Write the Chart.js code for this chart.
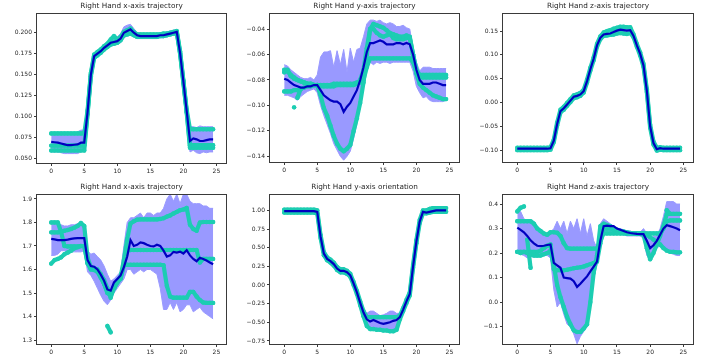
<!DOCTYPE html>
<html><head><meta charset="utf-8">
<script src="https://cdn.jsdelivr.net/npm/chart.js@4.4.1/dist/chart.umd.min.js"></script>
<style>
body{margin:0;background:#fff;width:718px;height:364px;overflow:hidden;position:relative}
canvas{position:absolute}
</style>
</head><body>
<canvas id="c1" width="231" height="180" style="left:0px;top:0px"></canvas>
<canvas id="c2" width="228" height="180" style="left:236px;top:0px"></canvas>
<canvas id="c3" width="228" height="180" style="left:470px;top:0px"></canvas>
<canvas id="c4" width="231" height="183" style="left:0px;top:181px"></canvas>
<canvas id="c5" width="228" height="183" style="left:236px;top:181px"></canvas>
<canvas id="c6" width="228" height="183" style="left:470px;top:181px"></canvas>
<script>
const TITLES = ["Right Hand x-axis trajectory","Right Hand y-axis trajectory","Right Hand z-axis trajectory","Right Hand x-axis trajectory","Right Hand y-axis orientation","Right Hand z-axis trajectory"];
const X = [0,0.5,1,1.5,2,2.5,3,3.5,4,4.5,5,5.5,6,6.5,7,7.5,8,8.5,9,9.5,10,10.5,11,11.5,12,12.5,13,13.5,14,14.5,15,15.5,16,16.5,17,17.5,18,18.5,19,19.5,20,20.5,21,21.5,22,22.5,23,23.5,24,24.5];

// Panel 1
const p1Mean = [0.070,0.0695,0.069,0.068,0.067,0.066,0.066,0.0665,0.067,0.069,0.069,0.105,0.150,0.172,0.175,0.178,0.182,0.185,0.188,0.189,0.190,0.193,0.200,0.202,0.204,0.200,0.197,0.196,0.196,0.196,0.196,0.196,0.196,0.197,0.197,0.198,0.199,0.200,0.201,0.176,0.142,0.107,0.071,0.074,0.073,0.071,0.071,0.072,0.073,0.073];
const p1T1 = [0.080,0.080,0.080,0.080,0.080,0.080,0.080,0.080,0.080,0.080,0.080,0.107,0.152,0.174,0.177,0.180,0.184,0.187,0.192,0.196,0.192,0.195,0.201,0.203,0.205,0.201,0.198,0.198,0.198,0.198,0.198,0.198,0.198,0.198,0.199,0.199,0.200,0.201,0.202,0.178,0.143,0.108,0.085,0.085,0.085,0.085,0.085,0.085,0.085,0.085];
const p1T2 = [0.0655,0.0655,0.0655,0.0655,0.0655,0.0655,0.0655,0.0655,0.0655,0.0655,0.0655,0.104,0.150,0.172,0.175,0.178,0.182,0.185,0.188,0.189,0.190,0.193,0.199,0.201,0.202,0.199,0.196,0.196,0.196,0.196,0.196,0.196,0.196,0.197,0.197,0.198,0.199,0.200,0.201,0.176,0.142,0.106,0.066,0.066,0.066,0.066,0.066,0.066,0.066,0.066];
const p1T3 = [0.0597,0.0597,0.0597,0.0597,0.0597,0.0597,0.0597,0.0597,0.0597,0.0597,0.0597,0.103,0.148,0.170,0.173,0.176,0.180,0.183,0.186,0.187,0.188,0.191,0.197,0.198,0.199,0.197,0.195,0.195,0.195,0.195,0.195,0.195,0.195,0.196,0.196,0.197,0.198,0.199,0.200,0.175,0.140,0.105,0.063,0.063,0.063,0.063,0.063,0.063,0.063,0.063];
const p1Up = [0.081,0.081,0.081,0.080,0.080,0.079,0.079,0.080,0.082,0.084,0.084,0.115,0.158,0.176,0.179,0.182,0.186,0.189,0.193,0.197,0.195,0.199,0.207,0.209,0.210,0.205,0.200,0.199,0.199,0.199,0.199,0.199,0.199,0.200,0.200,0.201,0.202,0.203,0.204,0.185,0.150,0.115,0.088,0.088,0.087,0.089,0.088,0.088,0.088,0.088];
const p1Lo = [0.058,0.058,0.058,0.057,0.056,0.056,0.056,0.056,0.056,0.058,0.060,0.095,0.140,0.166,0.171,0.174,0.178,0.181,0.184,0.185,0.186,0.188,0.194,0.196,0.197,0.195,0.193,0.193,0.193,0.193,0.193,0.193,0.193,0.194,0.194,0.195,0.196,0.197,0.197,0.165,0.130,0.095,0.058,0.060,0.057,0.056,0.058,0.057,0.058,0.058];

// Panel 2
const p2Mean = [-0.079,-0.080,-0.082,-0.084,-0.085,-0.086,-0.086,-0.085,-0.085,-0.084,-0.084,-0.088,-0.092,-0.094,-0.096,-0.097,-0.097,-0.099,-0.105,-0.101,-0.098,-0.093,-0.088,-0.080,-0.070,-0.058,-0.051,-0.051,-0.050,-0.049,-0.050,-0.052,-0.052,-0.052,-0.051,-0.051,-0.052,-0.051,-0.052,-0.060,-0.072,-0.080,-0.083,-0.083,-0.083,-0.082,-0.082,-0.083,-0.084,-0.084];
const p2T1 = [-0.074,-0.073,-0.076,-0.078,-0.080,-0.081,-0.082,-0.083,-0.083,-0.084,-0.084,-0.092,-0.102,-0.108,-0.116,-0.124,-0.130,-0.134,-0.136,-0.134,-0.131,-0.120,-0.110,-0.098,-0.082,-0.060,-0.040,-0.036,-0.037,-0.038,-0.039,-0.041,-0.043,-0.044,-0.045,-0.046,-0.046,-0.045,-0.046,-0.060,-0.075,-0.083,-0.086,-0.088,-0.090,-0.092,-0.093,-0.094,-0.095,-0.095];
const p2T2 = [-0.089,-0.089,-0.089,-0.088,-0.088,-0.087,-0.086,-0.085,-0.085,-0.084,-0.084,-0.084,-0.084,-0.084,-0.084,-0.083,-0.083,-0.083,-0.083,-0.083,-0.083,-0.083,-0.082,-0.082,-0.080,-0.070,-0.063,-0.063,-0.063,-0.063,-0.063,-0.063,-0.063,-0.063,-0.063,-0.063,-0.063,-0.063,-0.063,-0.066,-0.074,-0.078,-0.078,-0.078,-0.078,-0.078,-0.078,-0.078,-0.078,-0.078];
const p2T3 = [-0.072,-0.072,-0.077,-0.079,-0.080,-0.081,-0.082,-0.083,-0.083,-0.084,-0.084,-0.085,-0.085,-0.085,-0.085,-0.085,-0.084,-0.084,-0.084,-0.084,-0.084,-0.084,-0.083,-0.080,-0.072,-0.055,-0.040,-0.040,-0.043,-0.045,-0.046,-0.045,-0.044,-0.047,-0.048,-0.048,-0.048,-0.047,-0.047,-0.060,-0.072,-0.076,-0.076,-0.076,-0.076,-0.076,-0.076,-0.076,-0.076,-0.076];
const p2T4 = [null,null,null,-0.1015,null,null,null,null,null,null,null,null,null,null,null,null,null,null,null,null,null,null,null,null,null,null,null,null,null,null,null,null,null,null,null,null,null,null,null,null,null,null,null,null,null,null,null,null,null,null];
const p2T5 = [null,null,null,null,-0.094,-0.087,null,null,null,null,null,null,null,null,null,null,null,null,null,null,null,null,null,null,null,null,null,null,null,null,null,null,null,null,null,null,null,null,null,null,null,null,null,null,null,null,null,null,null,null];
const p2Up = [-0.068,-0.069,-0.072,-0.074,-0.076,-0.078,-0.079,-0.079,-0.078,-0.080,-0.076,-0.062,-0.058,-0.058,-0.057,-0.070,-0.057,-0.068,-0.056,-0.074,-0.055,-0.066,-0.056,-0.055,-0.046,-0.036,-0.033,-0.033,-0.034,-0.033,-0.035,-0.036,-0.035,-0.036,-0.038,-0.038,-0.037,-0.039,-0.040,-0.055,-0.066,-0.073,-0.070,-0.070,-0.070,-0.071,-0.071,-0.071,-0.071,-0.071];
const p2Lo = [-0.092,-0.092,-0.093,-0.094,-0.096,-0.093,-0.091,-0.089,-0.088,-0.087,-0.090,-0.100,-0.108,-0.115,-0.122,-0.130,-0.135,-0.140,-0.143,-0.140,-0.136,-0.126,-0.115,-0.100,-0.085,-0.070,-0.066,-0.068,-0.066,-0.067,-0.066,-0.066,-0.067,-0.066,-0.066,-0.066,-0.066,-0.066,-0.066,-0.073,-0.085,-0.090,-0.094,-0.093,-0.096,-0.097,-0.097,-0.097,-0.097,-0.096];

// Panel 3
const p3Mean = [-0.097,-0.097,-0.097,-0.097,-0.097,-0.097,-0.097,-0.097,-0.097,-0.097,-0.096,-0.080,-0.045,-0.018,-0.012,-0.004,0.004,0.012,0.014,0.017,0.024,0.045,0.070,0.092,0.120,0.136,0.143,0.144,0.145,0.148,0.151,0.153,0.152,0.151,0.152,0.140,0.120,0.102,0.078,0.025,-0.050,-0.085,-0.098,-0.096,-0.097,-0.097,-0.097,-0.097,-0.097,-0.097];
const p3T1 = [-0.095,-0.095,-0.095,-0.095,-0.095,-0.095,-0.095,-0.095,-0.095,-0.095,-0.094,-0.078,-0.042,-0.015,-0.009,-0.001,0.007,0.015,0.017,0.020,0.027,0.048,0.073,0.095,0.123,0.139,0.147,0.150,0.152,0.155,0.157,0.159,0.159,0.158,0.158,0.143,0.123,0.105,0.081,0.028,-0.047,-0.082,-0.095,-0.094,-0.095,-0.095,-0.095,-0.095,-0.095,-0.095];
const p3T2 = [-0.100,-0.100,-0.100,-0.100,-0.100,-0.100,-0.100,-0.100,-0.100,-0.100,-0.099,-0.083,-0.048,-0.021,-0.015,-0.007,0.001,0.009,0.011,0.014,0.021,0.042,0.067,0.089,0.117,0.133,0.140,0.141,0.142,0.143,0.145,0.146,0.145,0.144,0.146,0.137,0.117,0.099,0.075,0.022,-0.053,-0.088,-0.101,-0.099,-0.100,-0.100,-0.100,-0.100,-0.100,-0.100];
const p3Up = [-0.094,-0.094,-0.094,-0.094,-0.094,-0.094,-0.094,-0.094,-0.094,-0.094,-0.093,-0.074,-0.038,-0.012,-0.006,0.002,0.010,0.018,0.021,0.024,0.030,0.051,0.076,0.098,0.126,0.142,0.149,0.151,0.153,0.155,0.158,0.160,0.160,0.159,0.159,0.146,0.126,0.108,0.084,0.031,-0.044,-0.079,-0.094,-0.093,-0.094,-0.094,-0.094,-0.094,-0.094,-0.094];
const p3Lo = [-0.100,-0.100,-0.100,-0.100,-0.100,-0.100,-0.100,-0.100,-0.100,-0.100,-0.100,-0.086,-0.052,-0.025,-0.018,-0.010,-0.002,0.006,0.008,0.011,0.018,0.039,0.064,0.086,0.114,0.130,0.137,0.138,0.139,0.140,0.142,0.143,0.142,0.142,0.144,0.134,0.114,0.096,0.072,0.019,-0.056,-0.092,-0.103,-0.101,-0.101,-0.101,-0.101,-0.101,-0.101,-0.101];

// Panel 4
const p4Mean = [1.730,1.728,1.725,1.725,1.725,1.727,1.730,1.732,1.733,1.733,1.733,1.640,1.615,1.612,1.600,1.578,1.552,1.515,1.510,1.545,1.560,1.575,1.610,1.655,1.725,1.700,1.705,1.715,1.712,1.705,1.700,1.698,1.705,1.700,1.680,1.655,1.660,1.675,1.672,1.676,1.668,1.682,1.660,1.645,1.635,1.650,1.645,1.638,1.630,1.622];
const p4T1 = [1.800,1.800,1.800,1.760,1.700,1.698,1.698,1.698,1.698,1.700,1.700,1.625,1.605,1.600,1.595,1.570,1.540,1.500,1.490,1.520,1.545,1.560,1.620,1.620,1.620,1.620,1.620,1.620,1.620,1.620,1.620,1.620,1.620,1.620,1.618,1.530,1.485,1.480,1.480,1.480,1.480,1.480,1.505,1.505,1.485,1.470,1.460,1.458,1.458,1.458];
const p4T2 = [1.758,1.758,1.758,1.760,1.765,1.768,1.772,1.778,1.785,1.798,1.785,1.650,1.610,1.605,1.600,1.580,1.555,1.520,1.480,1.525,1.550,1.570,1.640,1.730,1.796,1.805,1.812,1.813,1.813,1.813,1.813,1.813,1.813,1.815,1.818,1.825,1.830,1.838,1.845,1.852,1.855,1.862,1.790,1.772,1.765,1.800,1.802,1.802,1.802,1.802];
const p4T3 = [1.625,1.640,1.645,1.652,1.665,1.672,1.680,1.690,1.695,1.700,1.700,1.630,1.600,1.598,1.590,1.565,1.540,1.505,1.495,1.520,1.545,1.565,1.620,1.680,1.683,1.683,1.683,1.683,1.683,1.683,1.683,1.683,1.683,1.683,1.683,1.683,1.683,1.683,1.683,1.683,1.683,1.683,1.683,1.683,1.683,1.630,1.645,1.645,1.645,1.645];
const p4T4 = [null,null,null,null,null,null,null,null,null,null,null,null,null,null,null,null,null,1.360,1.333,null,null,null,null,null,null,null,null,null,null,null,null,null,null,null,null,null,null,null,null,null,null,null,null,null,null,null,null,null,null,null];
const p4Up = [1.800,1.795,1.790,1.790,1.785,1.785,1.790,1.790,1.795,1.800,1.790,1.680,1.665,1.670,1.655,1.640,1.615,1.580,1.550,1.560,1.575,1.590,1.700,1.800,1.820,1.820,1.830,1.840,1.820,1.840,1.840,1.830,1.840,1.840,1.860,1.900,1.920,1.890,1.920,1.880,1.920,1.920,1.890,1.880,1.880,1.880,1.870,1.870,1.860,1.860];
const p4Lo = [1.660,1.660,1.665,1.680,1.680,1.670,1.675,1.675,1.675,1.675,1.680,1.590,1.575,1.550,1.520,1.490,1.465,1.450,1.470,1.500,1.520,1.540,1.560,1.600,1.600,1.580,1.590,1.600,1.590,1.600,1.600,1.590,1.580,1.520,1.430,1.430,1.460,1.430,1.460,1.420,1.430,1.450,1.450,1.420,1.430,1.440,1.420,1.410,1.400,1.390];

// Panel 5
const p5Mean = [0.99,0.99,0.99,0.99,0.99,0.99,0.99,0.99,0.99,0.99,0.98,0.65,0.42,0.35,0.32,0.28,0.22,0.19,0.19,0.17,0.13,0.02,-0.10,-0.24,-0.37,-0.46,-0.49,-0.47,-0.49,-0.51,-0.52,-0.51,-0.50,-0.48,-0.47,-0.43,-0.33,-0.22,-0.12,0.25,0.58,0.85,0.98,0.97,0.98,0.99,1.00,1.00,1.00,1.00];
const p5T1 = [1.01,1.01,1.01,1.01,1.01,1.01,1.01,1.01,1.01,1.01,1.00,0.67,0.44,0.37,0.34,0.30,0.24,0.21,0.21,0.19,0.15,0.04,-0.08,-0.22,-0.35,-0.43,-0.43,-0.43,-0.43,-0.43,-0.43,-0.43,-0.43,-0.43,-0.43,-0.41,-0.31,-0.20,-0.10,0.27,0.60,0.87,1.00,1.00,1.02,1.03,1.03,1.03,1.03,1.03];
const p5T2 = [0.97,0.97,0.97,0.97,0.97,0.97,0.97,0.97,0.97,0.97,0.96,0.63,0.40,0.33,0.30,0.26,0.20,0.17,0.17,0.15,0.11,0.00,-0.12,-0.27,-0.42,-0.55,-0.59,-0.59,-0.60,-0.60,-0.61,-0.61,-0.62,-0.62,-0.60,-0.46,-0.35,-0.24,-0.14,0.23,0.56,0.83,0.96,0.96,0.97,0.98,0.98,0.98,0.98,0.98];
const p5Up = [1.02,1.02,1.02,1.02,1.02,1.02,1.02,1.02,1.02,1.02,1.01,0.69,0.46,0.39,0.36,0.32,0.26,0.23,0.23,0.21,0.17,0.06,-0.06,-0.20,-0.33,-0.38,-0.35,-0.35,-0.38,-0.41,-0.40,-0.38,-0.35,-0.35,-0.38,-0.38,-0.29,-0.18,-0.08,0.29,0.62,0.89,1.01,1.01,1.03,1.04,1.05,1.05,1.05,1.05];
const p5Lo = [0.96,0.96,0.96,0.96,0.96,0.96,0.96,0.96,0.96,0.96,0.95,0.61,0.38,0.31,0.28,0.24,0.18,0.15,0.15,0.13,0.09,-0.02,-0.14,-0.29,-0.45,-0.57,-0.58,-0.58,-0.59,-0.60,-0.60,-0.60,-0.61,-0.61,-0.59,-0.49,-0.37,-0.26,-0.16,0.21,0.54,0.81,0.95,0.95,0.96,0.97,0.97,0.97,0.97,0.97];

// Panel 6
const p6Mean = [0.304,0.295,0.285,0.270,0.252,0.240,0.230,0.228,0.230,0.233,0.235,0.160,0.150,0.140,0.100,0.098,0.096,0.085,0.062,0.075,0.090,0.105,0.125,0.145,0.165,0.250,0.310,0.312,0.310,0.310,0.300,0.295,0.290,0.285,0.282,0.280,0.278,0.277,0.277,0.250,0.220,0.232,0.250,0.275,0.300,0.314,0.310,0.305,0.300,0.293];
const p6T1 = [0.330,0.330,0.330,0.330,0.330,0.320,0.300,0.290,0.280,0.275,0.285,0.285,0.283,0.270,0.240,0.220,0.218,0.218,0.218,0.218,0.218,0.218,0.218,0.218,0.218,0.250,0.280,0.280,0.280,0.280,0.280,0.280,0.280,0.280,0.280,0.280,0.280,0.280,0.280,0.280,0.280,0.280,0.280,0.280,0.300,0.330,0.333,0.333,0.333,0.333];
const p6T2 = [0.205,0.205,0.205,0.205,0.205,0.205,0.205,0.210,0.220,0.230,0.235,0.135,0.130,0.130,0.130,0.132,0.135,0.138,0.140,0.142,0.145,0.150,0.155,0.160,0.165,0.240,0.300,0.300,0.300,0.295,0.290,0.290,0.288,0.285,0.282,0.280,0.278,0.278,0.275,0.220,0.175,0.200,0.235,0.270,0.310,0.360,0.360,0.360,0.360,0.360];
const p6T3 = [0.205,0.200,0.205,0.200,0.195,0.190,0.190,0.190,0.195,0.200,0.210,0.150,0.070,0.020,-0.020,-0.060,-0.090,-0.115,-0.122,-0.122,-0.108,-0.090,0.000,0.120,0.190,0.310,0.320,0.315,0.310,0.300,0.295,0.290,0.285,0.280,0.280,0.280,0.280,0.280,0.280,0.275,0.265,0.255,0.245,0.235,0.220,0.210,0.205,0.205,0.203,0.203];
const p6T4 = [0.370,0.385,0.390,null,null,null,null,null,null,null,null,null,null,null,null,null,null,null,null,null,null,null,null,null,null,null,null,null,null,null,null,null,null,null,null,null,null,null,null,null,null,null,null,null,null,0.375,0.360,null,null,null];
const p6T5 = [null,null,null,0.255,0.140,null,null,null,null,null,null,null,null,null,null,null,null,null,null,null,null,null,null,null,null,null,null,null,null,null,null,null,null,null,null,null,null,null,null,null,null,null,null,null,null,null,null,null,null,null];
const p6Up = [0.370,0.370,0.340,0.330,0.330,0.330,0.310,0.290,0.280,0.280,0.285,0.300,0.330,0.300,0.330,0.280,0.330,0.300,0.340,0.280,0.340,0.270,0.320,0.250,0.220,0.320,0.340,0.330,0.320,0.310,0.300,0.300,0.295,0.290,0.290,0.285,0.285,0.285,0.300,0.280,0.250,0.270,0.270,0.300,0.350,0.410,0.410,0.410,0.400,0.400];
const p6Lo = [0.200,0.195,0.190,0.180,0.185,0.185,0.185,0.190,0.190,0.190,0.180,0.050,-0.020,0.000,-0.050,-0.090,-0.100,-0.130,-0.170,-0.140,-0.120,-0.100,-0.020,0.100,0.150,0.250,0.280,0.280,0.280,0.280,0.280,0.275,0.275,0.270,0.270,0.270,0.270,0.270,0.260,0.190,0.170,0.190,0.220,0.230,0.220,0.210,0.200,0.195,0.190,0.190];

const X_TICKS_STEP = 5;

const PANELS = [
  {id:'c1', title:TITLES[0], mean:p1Mean, up:p1Up, lo:p1Lo, teal:[p1T1,p1T2,p1T3], yMin:0.0436, yMax:0.2235, step:0.025, dec:3, yW:36, xH:16},
  {id:'c2', title:TITLES[1], mean:p2Mean, up:p2Up, lo:p2Lo, teal:[p2T1,p2T2,p2T3,p2T4,p2T5], yMin:-0.1452, yMax:-0.0274, step:0.02, dec:2, yW:33, xH:17},
  {id:'c3', title:TITLES[2], mean:p3Mean, up:p3Up, lo:p3Lo, teal:[p3T1,p3T2], yMin:-0.127, yMax:0.188, step:0.05, dec:2, yW:32, xH:17},
  {id:'c4', title:TITLES[3], mean:p4Mean, up:p4Up, lo:p4Lo, teal:[p4T1,p4T2,p4T3,p4T4], yMin:1.279, yMax:1.921, step:0.1, dec:1, yW:36, xH:19},
  {id:'c5', title:TITLES[4], mean:p5Mean, up:p5Up, lo:p5Lo, teal:[p5T1,p5T2], yMin:-0.804, yMax:1.219, step:0.25, dec:2, yW:33, xH:19},
  {id:'c6', title:TITLES[5], mean:p6Mean, up:p6Up, lo:p6Lo, teal:[p6T1,p6T2,p6T3,p6T4,p6T5], yMin:-0.175, yMax:0.441, step:0.1, dec:1, yW:32, xH:19}
];

const BAND = '#9999ff', TEAL = '#1ccdb2', MEAN = '#0000c0', INK = '#262626';
Chart.defaults.font.family = "'DejaVu Sans', sans-serif";

const frame = {
  id: 'frame',
  afterDatasetsDraw(chart) {
    const {ctx, chartArea: a} = chart;
    ctx.save();
    ctx.strokeStyle = '#3a3a3a';
    ctx.lineWidth = 1;
    ctx.strokeRect(Math.round(a.left) + 0.5, Math.round(a.top) + 0.5, Math.round(a.right - a.left) - 1, Math.round(a.bottom - a.top) - 1);
    ctx.restore();
  },
  afterDraw(chart) {
    const {ctx, chartArea: a} = chart;
    const t = chart.options.plugins.frame && chart.options.plugins.frame.text;
    if (!t) return;
    ctx.save();
    ctx.fillStyle = INK;
    ctx.font = "7.3px 'DejaVu Sans', sans-serif";
    ctx.textAlign = 'center';
    ctx.textBaseline = 'middle';
    ctx.fillText(t, (a.left + a.right) / 2, 6.5);
    ctx.restore();
  }
};

const pts = arr => X.map((x, i) => ({x: x, y: arr[i]}));

PANELS.forEach(p => {
  const datasets = [];
  datasets.push({data: pts(p.mean), borderColor: MEAN, borderWidth: 2.2, pointRadius: 0, order: 0, fill: false});
  p.teal.forEach(t => datasets.push({data: pts(t), borderColor: TEAL, backgroundColor: TEAL, borderWidth: 4.2, pointRadius: 2.2, pointBorderWidth: 0, borderCapStyle: 'round', borderJoinStyle: 'round', order: 1, fill: false}));
  datasets.push({data: pts(p.lo), borderColor: BAND, borderWidth: 1, pointRadius: 0, order: 2, fill: false});
  datasets.push({data: pts(p.up), borderColor: BAND, backgroundColor: BAND, borderWidth: 1, pointRadius: 0, order: 2, fill: '-1'});
  new Chart(document.getElementById(p.id), {
    type: 'line',
    data: {datasets},
    options: {
      responsive: false, animation: false, events: [],
      layout: {padding: {left: 0, right: 1, top: 13, bottom: 0}},
      plugins: {
        legend: {display: false}, tooltip: {enabled: false},
        filler: {drawTime: 'beforeDatasetsDraw'},
        title: {display: false},
        frame: {text: p.title}
      },
      scales: {
        x: {
          type: 'linear', min: -2.3, max: 26.6,
          afterFit: s => { s.height = p.xH; },
          border: {display: false},
          grid: {display: true, drawOnChartArea: false, drawTicks: true, tickLength: 2, color: '#3a3a3a'},
          ticks: {stepSize: X_TICKS_STEP, includeBounds: false, color: INK, font: {size: 6}, padding: 2, maxRotation: 0,
                  callback: v => String(v)}
        },
        y: {
          type: 'linear', min: p.yMin, max: p.yMax,
          afterFit: s => { s.width = p.yW; },
          border: {display: false},
          grid: {display: true, drawOnChartArea: false, drawTicks: true, tickLength: 2, color: '#3a3a3a'},
          ticks: {stepSize: p.step, includeBounds: false, color: INK, font: {size: 6}, padding: 2,
                  callback: v => { if (Math.abs(v) < 1e-9) v = 0; return v.toFixed(p.dec).replace('-', '\u2212'); }}
        }
      }
    },
    plugins: [frame]
  });
});
</script>
</body></html>
